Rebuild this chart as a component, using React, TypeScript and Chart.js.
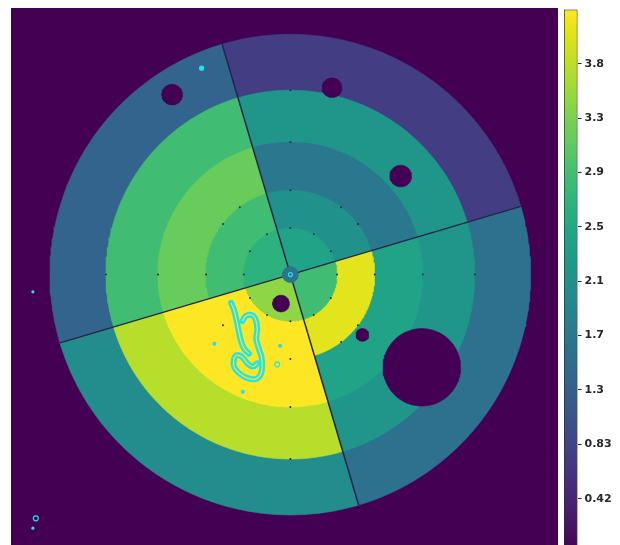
import React, { useEffect, useRef } from 'react';
import { Chart, registerables } from 'chart.js';

Chart.register(...registerables);

// ---------------- data ----------------
const VMAX = 4.1667;
const VMIN = 0;

// detector image size (pixels) and beam centre
const imageWidth = 547;
const imageHeight = 545;
const centerX = 279.5;
const centerY = 266.5;

// ring edges (px) : beamstop, ring1..ring5 outer radii
const ringRadii = [8, 47.5, 86, 135, 188, 245];
// sector start angles (deg, counter-clockwise from +x): TR, TL, BL, BR
const sectorStartDeg = [16.5, 106.5, 196.5, 286.5];

// values per ring, one per sector [TR, TL, BL, BR]
const ring1Values = [2.42, 2.67, 3.46, 2.88];
const ring2Values = [2.08, 2.88, 4.17, 4.0];
const ring3Values = [1.67, 3.2, 4.17, 2.42];
const ring4Values = [2.17, 2.88, 3.71, 2.17];
const ring5Values = [0.75, 1.33, 2.0, 1.54];
const beamstopValue = 1.58;

// masked (zero) holes
const holeX = [159, 322, 392, 270, 353, 413.5];
const holeY = [83, 76, 166, 296, 328, 361];
const holeR = [10.5, 10, 11, 8.5, 6.5, 39.5];

// small marker dots on ring boundaries (radius, angle deg)
const dotRadius = [47.5, 47.5, 47.5, 47.5, 47.5, 47.5, 47.5, 47.5, 47.5, 47.5, 47.5, 47.5,
  86, 86, 86, 86, 86, 86, 86, 86, 86, 86, 86, 86,
  135, 135, 135, 135, 188, 188, 188, 188];
const dotAngle = [0, 30, 60, 90, 120, 150, 180, 210, 240, 270, 300, 330,
  0, 36.9, 53.1, 90, 126.9, 143.1, 180, 216.9, 233.1, 270, 306.9, 323.1,
  0, 90, 180, 270, 0, 90, 180, 270];

// cyan contour traces (image px)
const contourA_x = [219, 222.3, 224.7, 226.7, 229, 232.3, 237.3];
const contourA_y = [295.3, 303.7, 313.7, 323.7, 333.7, 342, 347];
const contourB_x = [230.7, 234, 240, 244, 245.7, 244.7, 247.3, 250, 250.7, 249, 244, 235.7, 227.3, 222.3, 221.7, 224.7, 230, 235.7, 241.3, 245.7];
const contourB_y = [313.7, 308.7, 307.7, 312, 322, 332, 342, 350.3, 360.3, 368.7, 373, 372, 367, 361, 353.7, 348.7, 350.3, 357, 360.3, 357];

// small cyan spots (x, y, radius, hollow)
const spotX = [189, 17, 20, 17, 279.5, 202, 269, 266, 231];
const spotY = [56, 284, 515, 525, 266.5, 337, 339, 358, 386];
const spotR = [2, 1, 2.5, 1, 2, 1.5, 1.5, 2.5, 1.5];
const spotHollow = [false, false, true, false, true, false, false, true, false];

// colorbar ticks
const cbTickValues = [0.4167, 0.8333, 1.25, 1.6667, 2.0833, 2.5, 2.9167, 3.3333, 3.75];
const cbTickLabels = ['0.42', '0.83', '1.3', '1.7', '2.1', '2.5', '2.9', '3.3', '3.8'];

// ---------------- colour map ----------------
const viridisStops = ['#440154', '#471365', '#482475', '#46337f', '#414487', '#3b528b', '#355f8d', '#2f6c8e', '#2a788e', '#25858e', '#21918c', '#1e9c89', '#22a884', '#2fb47c', '#44bf70', '#5ec962', '#7ad151', '#9bd93c', '#bddf26', '#dde318', '#fde725'];

function hexToRgb(h: string) {
  return [parseInt(h.slice(1, 3), 16), parseInt(h.slice(3, 5), 16), parseInt(h.slice(5, 7), 16)];
}
const viridisRgb = viridisStops.map(hexToRgb);

function viridis(t: number) {
  const tt = Math.max(0, Math.min(1, t));
  const n = viridisRgb.length - 1;
  const p = tt * n;
  const i = Math.min(n - 1, Math.floor(p));
  const f = p - i;
  const a = viridisRgb[i];
  const b = viridisRgb[i + 1];
  const c = a.map((v, k) => Math.round(v + (b[k] - v) * f));
  return `rgb(${c[0]},${c[1]},${c[2]})`;
}
const colorFor = (v: number) => viridis((v - VMIN) / (VMAX - VMIN));

// ---------------- geometry helpers ----------------
function arcPoints(cx: number, cy: number, r: number, a0: number, a1: number, step = 1) {
  const pts: { x: number; y: number }[] = [];
  const n = Math.max(2, Math.ceil(Math.abs(a1 - a0) / step));
  for (let i = 0; i <= n; i++) {
    const a = ((a0 + ((a1 - a0) * i) / n) * Math.PI) / 180;
    pts.push({ x: cx + r * Math.cos(a), y: cy - r * Math.sin(a) });
  }
  return pts;
}
function slicePoly(cx: number, cy: number, r: number, a0: number, a1: number) {
  return [{ x: cx, y: cy }, ...arcPoints(cx, cy, r, a0, a1), { x: cx, y: cy }];
}
function circlePoly(cx: number, cy: number, r: number) {
  return arcPoints(cx, cy, r, 0, 360, 3);
}

function filledShape(points: { x: number; y: number }[], color: string) {
  return {
    data: points,
    showLine: true,
    fill: 'shape',
    backgroundColor: color,
    borderColor: color,
    borderWidth: 0.6,
    pointRadius: 0,
    tension: 0,
  };
}

function buildDatasets() {
  const ds: any[] = [];
  const ringValues = [ring1Values, ring2Values, ring3Values, ring4Values, ring5Values];
  // outer rings first, inner slices drawn on top
  for (let k = ringValues.length - 1; k >= 0; k--) {
    const rOut = ringRadii[k + 1];
    for (let s = 0; s < sectorStartDeg.length; s++) {
      const a0 = sectorStartDeg[s];
      const a1 = a0 + 90;
      ds.push(filledShape(slicePoly(centerX, centerY, rOut, a0, a1), colorFor(ringValues[k][s])));
    }
  }
  // sector boundary lines
  for (let s = 0; s < sectorStartDeg.length; s++) {
    const a = (sectorStartDeg[s] * Math.PI) / 180;
    const R = ringRadii[ringRadii.length - 1];
    ds.push({
      data: [{ x: centerX, y: centerY }, { x: centerX + R * Math.cos(a), y: centerY - R * Math.sin(a) }],
      showLine: true,
      borderColor: '#24244a',
      borderWidth: 1.5,
      pointRadius: 0,
      fill: false,
    });
  }
  // beamstop
  ds.push(filledShape(circlePoly(centerX, centerY, ringRadii[0]), colorFor(beamstopValue)));
  // masked holes
  for (let i = 0; i < holeX.length; i++) {
    ds.push(filledShape(circlePoly(holeX[i], holeY[i], holeR[i]), colorFor(0)));
  }
  // ring marker dots
  ds.push({
    data: dotRadius.map((r, i) => ({
      x: centerX + r * Math.cos((dotAngle[i] * Math.PI) / 180),
      y: centerY - r * Math.sin((dotAngle[i] * Math.PI) / 180),
    })),
    showLine: false,
    pointRadius: 1,
    pointBorderWidth: 0,
    pointBackgroundColor: '#2a2a40',
  });
  // cyan contours
  const cyan = '#22e3ec';
  const traces = [
    contourA_x.map((x, i) => ({ x, y: contourA_y[i] })),
    contourB_x.map((x, i) => ({ x, y: contourB_y[i] })),
  ];
  for (const t of traces) {
    ds.push({ data: t, showLine: true, borderColor: cyan, borderWidth: 6, pointRadius: 0, tension: 0.4, fill: false, borderCapStyle: 'round', borderJoinStyle: 'round' });
  }
  for (const t of traces) {
    ds.push({ data: t, showLine: true, borderColor: colorFor(4.17), borderWidth: 1.2, pointRadius: 0, tension: 0.4, fill: false });
  }
  ds.push({
    data: spotX.map((x, i) => ({ x, y: spotY[i] })),
    showLine: false,
    pointRadius: spotR,
    pointBorderWidth: 1.2,
    pointBorderColor: cyan,
    pointBackgroundColor: spotHollow.map((h) => (h ? 'rgba(0,0,0,0)' : cyan)),
  });
  // Chart.js paints dataset 0 last (on top) -> reverse so later layers are on top
  return ds.reverse();
}

export default function App() {
  const mainRef = useRef<HTMLCanvasElement>(null);
  const cbRef = useRef<HTMLCanvasElement>(null);

  useEffect(() => {
    const main = new Chart(mainRef.current!, {
      type: 'scatter',
      data: { datasets: buildDatasets() },
      options: {
        animation: false,
        responsive: false,
        maintainAspectRatio: false,
        events: [],
        layout: { padding: 0 },
        scales: {
          x: { type: 'linear', min: 0, max: imageWidth, display: false },
          y: { type: 'linear', min: 0, max: imageHeight, reverse: true, display: false },
        },
        plugins: { legend: { display: false }, tooltip: { enabled: false } },
      } as any,
    });

    const cb = new Chart(cbRef.current!, {
      type: 'bar',
      data: {
        labels: ['v'],
        datasets: [
          {
            data: [[VMIN, VMAX]] as any,
            barPercentage: 1,
            categoryPercentage: 1,
            borderWidth: 1,
            borderColor: '#2b2b2b',
            borderSkipped: false,
            backgroundColor: (ctx: any) => {
              const area = ctx.chart.chartArea;
              if (!area) return '#21918c';
              const g = ctx.chart.ctx.createLinearGradient(0, area.bottom, 0, area.top);
              viridisStops.forEach((c, i) => g.addColorStop(i / (viridisStops.length - 1), c));
              return g;
            },
          },
        ],
      },
      options: {
        animation: false,
        responsive: false,
        maintainAspectRatio: false,
        events: [],
        layout: { padding: { left: 4, right: 0, top: 7.5, bottom: 12 } },
        scales: {
          x: { type: 'category', display: false },
          y: {
            type: 'linear',
            position: 'right',
            min: VMIN,
            max: VMAX,
            afterBuildTicks: (s: any) => {
              s.ticks = cbTickValues.map((v) => ({ value: v }));
            },
            afterFit: (s: any) => {
              s.width = 42.5;
            },
            ticks: {
              autoSkip: false,
              padding: 3,
              color: '#262626',
              font: { family: 'DejaVu Sans', size: 11, weight: 'bold' },
              callback: (_v: any, i: number) => cbTickLabels[i],
            },
            grid: { drawOnChartArea: false, drawTicks: true, tickLength: 4, color: '#262626', lineWidth: 1 },
            border: { display: false },
          },
        },
        plugins: { legend: { display: false }, tooltip: { enabled: false } },
      } as any,
    });

    return () => {
      main.destroy();
      cb.destroy();
    };
  }, []);

  return (
    <div style={{ position: 'absolute', left: 0, top: 0, width: 620, height: 545, overflow: 'hidden', background: '#fff' }}>
      <canvas
        ref={mainRef}
        width={imageWidth}
        height={imageHeight}
        style={{ position: 'absolute', left: 11, top: 8, width: imageWidth, height: imageHeight, background: '#440154' }}
      />
      <canvas
        ref={cbRef}
        width={60}
        height={565}
        style={{ position: 'absolute', left: 560, top: 0, width: 60, height: 565 }}
      />
    </div>
  );
}
